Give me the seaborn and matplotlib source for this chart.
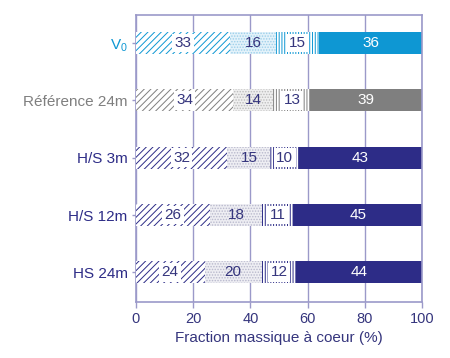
import numpy as np
import pandas as pd
import matplotlib
matplotlib.use("Agg")
import matplotlib.pyplot as plt
import seaborn as sns

# Mass fractions (%) per sample, split into four components
samples = ["V$_0$", "Référence 24m", "H/S 3m", "H/S 12m", "HS 24m"]
frac_1 = [33, 34, 32, 26, 24]
frac_2 = [16, 14, 15, 18, 20]
frac_3 = [15, 13, 10, 11, 12]
frac_4 = [36, 39, 43, 45, 44]
x_ticks = [0, 20, 40, 60, 80, 100]
x_label = "Fraction massique à coeur (%)"

row_colors = ["#0e97d3", "#7f7f7f", "#2d2c87", "#2d2c87", "#2d2c87"]
stipple_face = ["#e3f2fa", "#efefef", "#eeeef3", "#eeeef3", "#eeeef3"]
stipple_dots = ["#9ccfea", "#bcbcbc", "#b8b8cc", "#b8b8cc", "#b8b8cc"]
axis_color = "#9b99c9"
text_color = "#35357d"

sns.set_theme(style="white")
plt.rcParams["font.family"] = ["Liberation Sans", "DejaVu Sans"]
plt.rcParams["mathtext.default"] = "regular"
plt.rcParams["hatch.linewidth"] = 0.7

fig = plt.figure(figsize=(4.5, 3.58), dpi=100)
ax = fig.add_axes([0.302, 0.156, 0.636, 0.802])

segments = np.array([frac_1, frac_2, frac_3, frac_4], dtype=float)
cum = segments.cumsum(axis=0)
df = pd.DataFrame({"sample": samples})

bar_h = 0.385
# Draw cumulative layers from the longest to the shortest so each overlays the next
for k in range(3, -1, -1):
    df["total"] = cum[k]
    n0 = len(ax.patches)
    sns.barplot(data=df, x="total", y="sample", order=samples, orient="h",
                color="white", width=bar_h, errorbar=None, linewidth=0, ax=ax)
    for i, p in enumerate(ax.patches[n0:]):
        p.set_linewidth(0)
        p.set_zorder(2 + (3 - k))
        if k == 3:
            p.set_facecolor(row_colors[i])
            p.set_edgecolor(row_colors[i])
        elif k == 2:
            p.set_facecolor("white")
            p.set_edgecolor(row_colors[i])
            p.set_hatch("||||||")
        elif k == 1:
            p.set_facecolor(stipple_face[i])
            p.set_edgecolor(stipple_dots[i])
            p.set_hatch("......")
        else:
            p.set_facecolor("white")
            p.set_edgecolor(row_colors[i])
            p.set_hatch("/////")

# Value labels centred on each segment
starts = np.vstack([np.zeros(len(samples)), cum[:-1]])
for k in range(4):
    for i in range(len(samples)):
        v = segments[k, i]
        xc = starts[k, i] + v / 2
        kw = dict(ha="center", va="center", fontsize=11, zorder=10)
        if k == 3:
            ax.text(xc, i, f"{int(v)}", color="white", **kw)
        elif k == 1:
            ax.text(xc, i, f"{int(v)}", color=text_color, **kw)
        else:
            ax.text(xc, i, f"{int(v)}", color=text_color,
                    bbox=dict(boxstyle="square,pad=0.15", facecolor="white",
                              edgecolor="none"), **kw)

ax.set_xlim(0, 100)
ax.set_ylim(4.52, -0.49)
ax.set_xticks(x_ticks)
ax.set_xticklabels([str(t) for t in x_ticks])
ax.set_xlabel(x_label, fontsize=11, color=text_color, labelpad=4)
ax.set_ylabel("")

ax.set_axisbelow(True)
ax.grid(axis="x", color=axis_color, linewidth=1.0)
ax.grid(axis="y", visible=False)
for s in ax.spines.values():
    s.set_visible(True)
    s.set_color(axis_color)
    s.set_linewidth(1.2)

ax.tick_params(axis="x", direction="out", length=4, width=1, color=axis_color,
               labelsize=10.5, labelcolor=text_color, pad=3, bottom=True)
ax.tick_params(axis="y", direction="out", length=3, width=1, color=axis_color,
               labelsize=11, pad=3, left=True)
for lbl, c in zip(ax.get_yticklabels(), row_colors):
    lbl.set_color(c)

fig.savefig("out.png", dpi=100)
